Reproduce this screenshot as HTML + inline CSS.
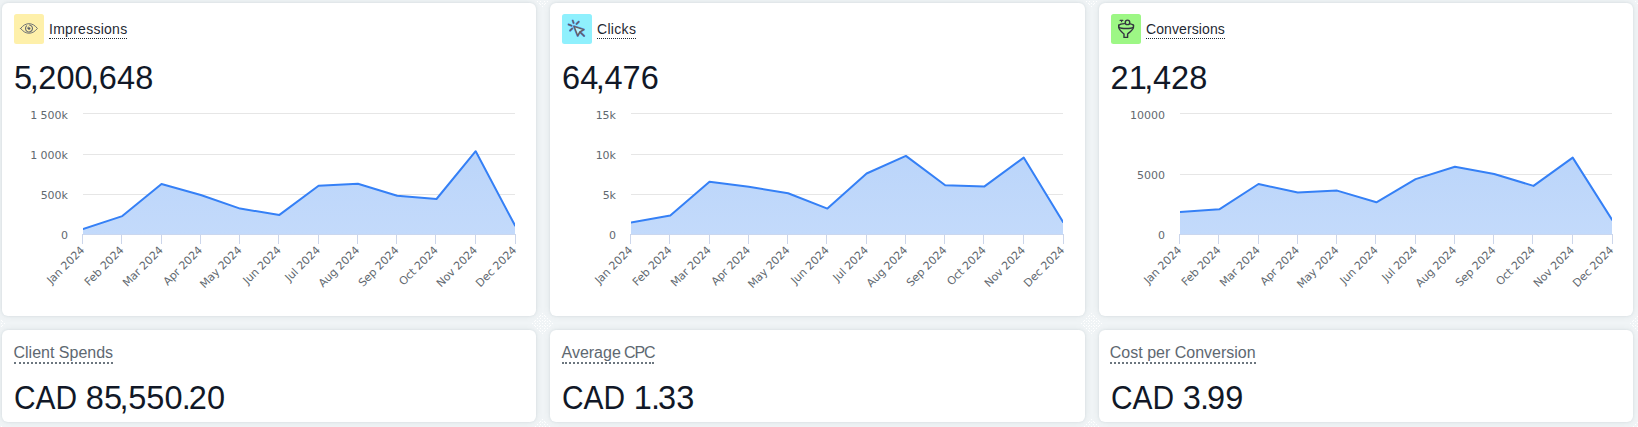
<!DOCTYPE html>
<html lang="en"><head><meta charset="utf-8"><title>Dashboard</title>
<style>
html,body{margin:0;padding:0;}
body{width:1638px;height:427px;overflow:hidden;background:#f0f4f6;font-family:"Liberation Sans",Arial,sans-serif;position:relative;}
.card{position:absolute;background:#fff;border-radius:6px;width:534.33px;box-shadow:0 0 3px rgba(30,50,70,0.10),0 0 9px rgba(30,60,70,0.06);}
.top{top:3px;height:313px;}
.bot{top:330px;height:92px;}
.ico{position:absolute;left:12px;top:11px;width:30px;height:30px;border-radius:2.5px;display:flex;align-items:center;justify-content:center;}
.ttl{position:absolute;left:47px;top:18px;font-size:14px;line-height:16px;color:#1f2933;border-bottom:1px dotted #1f2933;padding-bottom:1px;white-space:nowrap;}
.val{position:absolute;left:12px;top:56px;font-size:32.500px;line-height:38px;color:#111827;white-space:nowrap;letter-spacing:0.1px;}
.c{letter-spacing:-0.500px;margin-left:-2.500px;}
.p{letter-spacing:-2px;margin-left:-1px;}
.cur{display:inline-block;transform:scaleX(0.92);transform-origin:0 50%;margin-right:-6px;letter-spacing:0;}
.dots{position:absolute;}
.wrap{position:absolute;width:534px;height:0;}
.chart{position:absolute;left:0;top:0;}
.xl{letter-spacing:-0.080px;}
.ax{font-family:"DejaVu Sans","Liberation Sans",sans-serif;font-size:11px;fill:#626970;}
.bttl{position:absolute;left:11.500px;top:14px;font-size:16px;line-height:18px;color:#5e6871;border-bottom:2px dotted #6c767f;padding-bottom:0;white-space:nowrap;}
.bval{position:absolute;left:12px;top:49px;font-size:32.500px;line-height:38px;color:#111827;white-space:nowrap;letter-spacing:0.1px;}
</style></head><body>
<div class="card top" style="left:2px"></div>
<div class="card bot" style="left:2px"></div>
<div class="card top" style="left:550.33px"></div>
<div class="card bot" style="left:550.33px"></div>
<div class="card top" style="left:1098.67px"></div>
<div class="card bot" style="left:1098.67px"></div>
<div class="wrap" style="left:2px;top:3px">
<svg class="chart" width="534" height="313" viewBox="0 0 534 313">
<defs><linearGradient id="g0" x1="0" y1="0" x2="0" y2="1"><stop offset="0" stop-color="#bbd5fa"/><stop offset="1" stop-color="#c3dafb"/></linearGradient><clipPath id="cp0"><rect x="81.0" y="100.5" width="432.0" height="131.0"/></clipPath></defs>
<path d="M81.0 110.5H513.0" stroke="#e6e6e6" stroke-width="1" fill="none"/>
<path d="M81.0 151.5H513.0" stroke="#e6e6e6" stroke-width="1" fill="none"/>
<path d="M81.0 191.5H513.0" stroke="#e6e6e6" stroke-width="1" fill="none"/>
<path d="M81.0 231.5H513.0" stroke="#ccd6eb" stroke-width="1" fill="none"/>
<path d="M80.5 231.0V241.0" stroke="#ccd6eb" stroke-width="1" fill="none"/>
<path d="M119.5 231.0V241.0" stroke="#ccd6eb" stroke-width="1" fill="none"/>
<path d="M159.5 231.0V241.0" stroke="#ccd6eb" stroke-width="1" fill="none"/>
<path d="M198.5 231.0V241.0" stroke="#ccd6eb" stroke-width="1" fill="none"/>
<path d="M237.5 231.0V241.0" stroke="#ccd6eb" stroke-width="1" fill="none"/>
<path d="M276.5 231.0V241.0" stroke="#ccd6eb" stroke-width="1" fill="none"/>
<path d="M316.5 231.0V241.0" stroke="#ccd6eb" stroke-width="1" fill="none"/>
<path d="M355.5 231.0V241.0" stroke="#ccd6eb" stroke-width="1" fill="none"/>
<path d="M394.5 231.0V241.0" stroke="#ccd6eb" stroke-width="1" fill="none"/>
<path d="M433.5 231.0V241.0" stroke="#ccd6eb" stroke-width="1" fill="none"/>
<path d="M473.5 231.0V241.0" stroke="#ccd6eb" stroke-width="1" fill="none"/>
<path d="M513.5 231.0V241.0" stroke="#ccd6eb" stroke-width="1" fill="none"/>
<g clip-path="url(#cp0)">
<path d="M81.0 226.0 L120.3 213.1 L159.5 181.0 L198.8 192.0 L238.1 205.6 L277.4 211.9 L316.6 182.7 L355.9 180.8 L395.2 192.7 L434.5 196.0 L473.7 148.2 L513.0 222.5 L513.0 231.5 L81.0 231.5Z" fill="url(#g0)" stroke="none"/>
<path d="M81.0 226.0 L120.3 213.1 L159.5 181.0 L198.8 192.0 L238.1 205.6 L277.4 211.9 L316.6 182.7 L355.9 180.8 L395.2 192.7 L434.5 196.0 L473.7 148.2 L513.0 222.5" fill="none" stroke="#3580f6" stroke-width="2" stroke-linejoin="round" stroke-linecap="round"/>
</g>
<text x="66.0" y="116" text-anchor="end" class="ax">1 500k</text>
<text x="66.0" y="156" text-anchor="end" class="ax">1 000k</text>
<text x="66.0" y="196" text-anchor="end" class="ax">500k</text>
<text x="66.0" y="236" text-anchor="end" class="ax">0</text>
<text x="83.2" y="247.8" text-anchor="end" class="ax xl" transform="rotate(-45 83.2 247.8)">Jan 2024</text>
<text x="122.5" y="247.8" text-anchor="end" class="ax xl" transform="rotate(-45 122.5 247.8)">Feb 2024</text>
<text x="161.7" y="247.8" text-anchor="end" class="ax xl" transform="rotate(-45 161.7 247.8)">Mar 2024</text>
<text x="201.0" y="247.8" text-anchor="end" class="ax xl" transform="rotate(-45 201.0 247.8)">Apr 2024</text>
<text x="240.3" y="247.8" text-anchor="end" class="ax xl" transform="rotate(-45 240.3 247.8)">May 2024</text>
<text x="279.6" y="247.8" text-anchor="end" class="ax xl" transform="rotate(-45 279.6 247.8)">Jun 2024</text>
<text x="318.8" y="247.8" text-anchor="end" class="ax xl" transform="rotate(-45 318.8 247.8)">Jul 2024</text>
<text x="358.1" y="247.8" text-anchor="end" class="ax xl" transform="rotate(-45 358.1 247.8)">Aug 2024</text>
<text x="397.4" y="247.8" text-anchor="end" class="ax xl" transform="rotate(-45 397.4 247.8)">Sep 2024</text>
<text x="436.7" y="247.8" text-anchor="end" class="ax xl" transform="rotate(-45 436.7 247.8)">Oct 2024</text>
<text x="475.9" y="247.8" text-anchor="end" class="ax xl" transform="rotate(-45 475.9 247.8)">Nov 2024</text>
<text x="515.2" y="247.8" text-anchor="end" class="ax xl" transform="rotate(-45 515.2 247.8)">Dec 2024</text>
</svg>
<div class="ico" style="background:#fef0aa"><svg width="30" height="30" viewBox="0 0 30 30" fill="none" stroke="#666a71" stroke-width="0.950" stroke-linecap="round" stroke-linejoin="round"><path d="M6.600 14.450C9.200 11.100 12 9.700 15 9.700s5.800 1.400 8.400 4.750c-2.600 3.350-5.400 4.750-8.400 4.750s-5.800-1.400-8.400-4.750z"/><path d="M12.600 11.900A3.500 3.500 0 1 0 15.600 11" stroke-width="1.100"/><circle cx="15.100" cy="14.500" r="1.350" fill="#5c6067" stroke="none"/><path d="M13.300 14.400a1.800 1.800 0 0 1 1.100-1.600" stroke-width="0.700"/></svg></div>
<div class="ttl" style="letter-spacing:0.27px">Impression<span style="letter-spacing:0">s</span></div>
<div class="val" style="left:12px">5<span class="c">,</span>200<span class="c">,</span>648</div>
</div>
<div class="wrap" style="left:550px;top:3px">
<svg class="chart" width="534" height="313" viewBox="0 0 534 313">
<defs><linearGradient id="g1" x1="0" y1="0" x2="0" y2="1"><stop offset="0" stop-color="#bbd5fa"/><stop offset="1" stop-color="#c3dafb"/></linearGradient><clipPath id="cp1"><rect x="81.0" y="100.5" width="432.0" height="131.0"/></clipPath></defs>
<path d="M81.0 110.5H513.0" stroke="#e6e6e6" stroke-width="1" fill="none"/>
<path d="M81.0 151.5H513.0" stroke="#e6e6e6" stroke-width="1" fill="none"/>
<path d="M81.0 191.5H513.0" stroke="#e6e6e6" stroke-width="1" fill="none"/>
<path d="M81.0 231.5H513.0" stroke="#ccd6eb" stroke-width="1" fill="none"/>
<path d="M80.5 231.0V241.0" stroke="#ccd6eb" stroke-width="1" fill="none"/>
<path d="M119.5 231.0V241.0" stroke="#ccd6eb" stroke-width="1" fill="none"/>
<path d="M159.5 231.0V241.0" stroke="#ccd6eb" stroke-width="1" fill="none"/>
<path d="M198.5 231.0V241.0" stroke="#ccd6eb" stroke-width="1" fill="none"/>
<path d="M237.5 231.0V241.0" stroke="#ccd6eb" stroke-width="1" fill="none"/>
<path d="M276.5 231.0V241.0" stroke="#ccd6eb" stroke-width="1" fill="none"/>
<path d="M316.5 231.0V241.0" stroke="#ccd6eb" stroke-width="1" fill="none"/>
<path d="M355.5 231.0V241.0" stroke="#ccd6eb" stroke-width="1" fill="none"/>
<path d="M394.5 231.0V241.0" stroke="#ccd6eb" stroke-width="1" fill="none"/>
<path d="M433.5 231.0V241.0" stroke="#ccd6eb" stroke-width="1" fill="none"/>
<path d="M473.5 231.0V241.0" stroke="#ccd6eb" stroke-width="1" fill="none"/>
<path d="M513.5 231.0V241.0" stroke="#ccd6eb" stroke-width="1" fill="none"/>
<g clip-path="url(#cp1)">
<path d="M81.0 219.4 L120.3 212.4 L159.5 178.7 L198.8 183.8 L238.1 190.2 L277.4 205.6 L316.6 170.5 L355.9 152.9 L395.2 182.2 L434.5 183.4 L473.7 154.6 L513.0 219.0 L513.0 231.5 L81.0 231.5Z" fill="url(#g1)" stroke="none"/>
<path d="M81.0 219.4 L120.3 212.4 L159.5 178.7 L198.8 183.8 L238.1 190.2 L277.4 205.6 L316.6 170.5 L355.9 152.9 L395.2 182.2 L434.5 183.4 L473.7 154.6 L513.0 219.0" fill="none" stroke="#3580f6" stroke-width="2" stroke-linejoin="round" stroke-linecap="round"/>
</g>
<text x="66.0" y="116" text-anchor="end" class="ax">15k</text>
<text x="66.0" y="156" text-anchor="end" class="ax">10k</text>
<text x="66.0" y="196" text-anchor="end" class="ax">5k</text>
<text x="66.0" y="236" text-anchor="end" class="ax">0</text>
<text x="83.2" y="247.8" text-anchor="end" class="ax xl" transform="rotate(-45 83.2 247.8)">Jan 2024</text>
<text x="122.5" y="247.8" text-anchor="end" class="ax xl" transform="rotate(-45 122.5 247.8)">Feb 2024</text>
<text x="161.7" y="247.8" text-anchor="end" class="ax xl" transform="rotate(-45 161.7 247.8)">Mar 2024</text>
<text x="201.0" y="247.8" text-anchor="end" class="ax xl" transform="rotate(-45 201.0 247.8)">Apr 2024</text>
<text x="240.3" y="247.8" text-anchor="end" class="ax xl" transform="rotate(-45 240.3 247.8)">May 2024</text>
<text x="279.6" y="247.8" text-anchor="end" class="ax xl" transform="rotate(-45 279.6 247.8)">Jun 2024</text>
<text x="318.8" y="247.8" text-anchor="end" class="ax xl" transform="rotate(-45 318.8 247.8)">Jul 2024</text>
<text x="358.1" y="247.8" text-anchor="end" class="ax xl" transform="rotate(-45 358.1 247.8)">Aug 2024</text>
<text x="397.4" y="247.8" text-anchor="end" class="ax xl" transform="rotate(-45 397.4 247.8)">Sep 2024</text>
<text x="436.7" y="247.8" text-anchor="end" class="ax xl" transform="rotate(-45 436.7 247.8)">Oct 2024</text>
<text x="475.9" y="247.8" text-anchor="end" class="ax xl" transform="rotate(-45 475.9 247.8)">Nov 2024</text>
<text x="515.2" y="247.8" text-anchor="end" class="ax xl" transform="rotate(-45 515.2 247.8)">Dec 2024</text>
</svg>
<div class="ico" style="background:#8ff0fd"><svg width="30" height="30" viewBox="0 0 30 30" fill="none" stroke-linecap="round" stroke-linejoin="round"><g stroke="#3f74f2" stroke-width="2.300" stroke-opacity="0.75"><path d="M12 12.300l9.800 3.300-4 2.200-2.100 4z"/><path d="M18.200 18.200l3.900 3.700"/><path d="M10.700 6.600l0.900 2.400M16.700 7.800l-2.200 2.100M6.600 10.500l2.900 1.200M8.100 16.600l2.100-2.100"/></g><g stroke="#675f60" stroke-width="1.400"><path d="M12 12.300l9.800 3.300-4 2.200-2.100 4z" fill="#b5f3ff"/><path d="M18.200 18.200l3.900 3.700"/><path d="M10.700 6.600l0.900 2.400M16.700 7.800l-2.200 2.100M6.600 10.500l2.900 1.200M8.100 16.600l2.100-2.100"/></g></svg></div>
<div class="ttl" style="letter-spacing:0.32px">Click<span style="letter-spacing:0">s</span></div>
<div class="val" style="left:12px">64<span class="c">,</span>476</div>
</div>
<div class="wrap" style="left:1099px;top:3px">
<svg class="chart" width="534" height="313" viewBox="0 0 534 313">
<defs><linearGradient id="g2" x1="0" y1="0" x2="0" y2="1"><stop offset="0" stop-color="#bbd5fa"/><stop offset="1" stop-color="#c3dafb"/></linearGradient><clipPath id="cp2"><rect x="81.0" y="100.5" width="432.0" height="131.0"/></clipPath></defs>
<path d="M81.0 110.5H513.0" stroke="#e6e6e6" stroke-width="1" fill="none"/>
<path d="M81.0 171.5H513.0" stroke="#e6e6e6" stroke-width="1" fill="none"/>
<path d="M81.0 231.5H513.0" stroke="#ccd6eb" stroke-width="1" fill="none"/>
<path d="M80.5 231.0V241.0" stroke="#ccd6eb" stroke-width="1" fill="none"/>
<path d="M119.5 231.0V241.0" stroke="#ccd6eb" stroke-width="1" fill="none"/>
<path d="M159.5 231.0V241.0" stroke="#ccd6eb" stroke-width="1" fill="none"/>
<path d="M198.5 231.0V241.0" stroke="#ccd6eb" stroke-width="1" fill="none"/>
<path d="M237.5 231.0V241.0" stroke="#ccd6eb" stroke-width="1" fill="none"/>
<path d="M276.5 231.0V241.0" stroke="#ccd6eb" stroke-width="1" fill="none"/>
<path d="M316.5 231.0V241.0" stroke="#ccd6eb" stroke-width="1" fill="none"/>
<path d="M355.5 231.0V241.0" stroke="#ccd6eb" stroke-width="1" fill="none"/>
<path d="M394.5 231.0V241.0" stroke="#ccd6eb" stroke-width="1" fill="none"/>
<path d="M433.5 231.0V241.0" stroke="#ccd6eb" stroke-width="1" fill="none"/>
<path d="M473.5 231.0V241.0" stroke="#ccd6eb" stroke-width="1" fill="none"/>
<path d="M513.5 231.0V241.0" stroke="#ccd6eb" stroke-width="1" fill="none"/>
<g clip-path="url(#cp2)">
<path d="M81.0 208.9 L120.3 206.3 L159.5 181.0 L198.8 189.5 L238.1 187.6 L277.4 199.3 L316.6 176.1 L355.9 163.7 L395.2 171.0 L434.5 182.9 L473.7 154.6 L513.0 216.6 L513.0 231.5 L81.0 231.5Z" fill="url(#g2)" stroke="none"/>
<path d="M81.0 208.9 L120.3 206.3 L159.5 181.0 L198.8 189.5 L238.1 187.6 L277.4 199.3 L316.6 176.1 L355.9 163.7 L395.2 171.0 L434.5 182.9 L473.7 154.6 L513.0 216.6" fill="none" stroke="#3580f6" stroke-width="2" stroke-linejoin="round" stroke-linecap="round"/>
</g>
<text x="66.0" y="116" text-anchor="end" class="ax">10000</text>
<text x="66.0" y="176" text-anchor="end" class="ax">5000</text>
<text x="66.0" y="236" text-anchor="end" class="ax">0</text>
<text x="83.2" y="247.8" text-anchor="end" class="ax xl" transform="rotate(-45 83.2 247.8)">Jan 2024</text>
<text x="122.5" y="247.8" text-anchor="end" class="ax xl" transform="rotate(-45 122.5 247.8)">Feb 2024</text>
<text x="161.7" y="247.8" text-anchor="end" class="ax xl" transform="rotate(-45 161.7 247.8)">Mar 2024</text>
<text x="201.0" y="247.8" text-anchor="end" class="ax xl" transform="rotate(-45 201.0 247.8)">Apr 2024</text>
<text x="240.3" y="247.8" text-anchor="end" class="ax xl" transform="rotate(-45 240.3 247.8)">May 2024</text>
<text x="279.6" y="247.8" text-anchor="end" class="ax xl" transform="rotate(-45 279.6 247.8)">Jun 2024</text>
<text x="318.8" y="247.8" text-anchor="end" class="ax xl" transform="rotate(-45 318.8 247.8)">Jul 2024</text>
<text x="358.1" y="247.8" text-anchor="end" class="ax xl" transform="rotate(-45 358.1 247.8)">Aug 2024</text>
<text x="397.4" y="247.8" text-anchor="end" class="ax xl" transform="rotate(-45 397.4 247.8)">Sep 2024</text>
<text x="436.7" y="247.8" text-anchor="end" class="ax xl" transform="rotate(-45 436.7 247.8)">Oct 2024</text>
<text x="475.9" y="247.8" text-anchor="end" class="ax xl" transform="rotate(-45 475.9 247.8)">Nov 2024</text>
<text x="515.2" y="247.8" text-anchor="end" class="ax xl" transform="rotate(-45 515.2 247.8)">Dec 2024</text>
</svg>
<div class="ico" style="background:#9df785"><svg width="30" height="30" viewBox="0 0 30 30" fill="none" stroke="#33343f" stroke-width="1.400" stroke-linecap="round" stroke-linejoin="round"><path d="M7.700 11.200c0.900-0.900 3.100-1.500 5.700-1.600M19.400 9.900c1.500 0.300 2.600 0.700 3.100 1.300"/><path d="M7.700 11.200v1.900c0 2.800 2.700 4.400 5.300 6.900v3.400h3.600v-3.400c2.600-2.500 5.900-4.100 5.900-6.900v-1.900"/><path d="M8 13.300c2.300 1.500 12 1.500 14.300 0"/><circle cx="16.500" cy="8.400" r="2.250"/><path d="M9.100 6.400h2.800M10.500 6.600l0.200 1.200" stroke-width="1.100"/></svg></div>
<div class="ttl" style="letter-spacing:0.1px">Conversion<span style="letter-spacing:0">s</span></div>
<div class="val" style="left:11.5px">21<span class="c">,</span>428</div>
</div>
<div class="wrap" style="left:2px;top:330px">
<div class="bttl" style="left:11.5px">Client Spends</div>
<div class="bval"><span class="cur">CAD</span> 85<span class="c">,</span>550<span class="p">.</span>20</div>
</div>
<div class="wrap" style="left:550px;top:330px">
<div class="bttl" style="left:11.5px"><span style="word-spacing:-1.3px">Average <span style="letter-spacing:-1.1px">CPC</span></span></div>
<div class="bval"><span class="cur">CAD</span> 1<span class="p">.</span>33</div>
</div>
<div class="wrap" style="left:1099px;top:330px">
<div class="bttl" style="left:10.8px">Cost per Conversion</div>
<div class="bval"><span class="cur">CAD</span> 3<span class="p">.</span>99</div>
</div>
<svg class="dots" style="left:-18px;top:-16px" width="24" height="24" viewBox="-12 -12 24 24"><path fill="#ffffff" fill-opacity="0.95" d="M0 -10h1v1h-1zM-2 -8h1v1h-1zM-3 -7h1v1h-1zM-5 -5h1v1h-1zM-7 -3h1v1h-1zM-8 -2h1v1h-1zM-10 0h1v1h-1zM2 -8h1v1h-1zM0 -7h1v1h-1zM-2 -5h1v1h-1zM-3 -3h1v1h-1zM-5 -2h1v1h-1zM-7 0h1v1h-1zM-8 2h1v1h-1zM3 -7h1v1h-1zM2 -5h1v1h-1zM0 -3h1v1h-1zM-2 -2h1v1h-1zM-3 0h1v1h-1zM-5 2h1v1h-1zM-7 3h1v1h-1zM5 -5h1v1h-1zM3 -3h1v1h-1zM2 -2h1v1h-1zM0 0h1v1h-1zM-2 2h1v1h-1zM-3 3h1v1h-1zM-5 5h1v1h-1zM7 -3h1v1h-1zM5 -2h1v1h-1zM3 0h1v1h-1zM2 2h1v1h-1zM0 3h1v1h-1zM-2 5h1v1h-1zM-3 7h1v1h-1zM8 -2h1v1h-1zM7 0h1v1h-1zM5 2h1v1h-1zM3 3h1v1h-1zM2 5h1v1h-1zM0 7h1v1h-1zM-2 8h1v1h-1zM10 0h1v1h-1zM8 2h1v1h-1zM7 3h1v1h-1zM5 5h1v1h-1zM3 7h1v1h-1zM2 8h1v1h-1zM0 10h1v1h-1z"/></svg>
<svg class="dots" style="left:-18px;top:311px" width="24" height="24" viewBox="-12 -12 24 24"><path fill="#ffffff" fill-opacity="0.95" d="M0 -10h1v1h-1zM-2 -8h1v1h-1zM-3 -7h1v1h-1zM-5 -5h1v1h-1zM-7 -3h1v1h-1zM-8 -2h1v1h-1zM-10 0h1v1h-1zM2 -8h1v1h-1zM0 -7h1v1h-1zM-2 -5h1v1h-1zM-3 -3h1v1h-1zM-5 -2h1v1h-1zM-7 0h1v1h-1zM-8 2h1v1h-1zM3 -7h1v1h-1zM2 -5h1v1h-1zM0 -3h1v1h-1zM-2 -2h1v1h-1zM-3 0h1v1h-1zM-5 2h1v1h-1zM-7 3h1v1h-1zM5 -5h1v1h-1zM3 -3h1v1h-1zM2 -2h1v1h-1zM0 0h1v1h-1zM-2 2h1v1h-1zM-3 3h1v1h-1zM-5 5h1v1h-1zM7 -3h1v1h-1zM5 -2h1v1h-1zM3 0h1v1h-1zM2 2h1v1h-1zM0 3h1v1h-1zM-2 5h1v1h-1zM-3 7h1v1h-1zM8 -2h1v1h-1zM7 0h1v1h-1zM5 2h1v1h-1zM3 3h1v1h-1zM2 5h1v1h-1zM0 7h1v1h-1zM-2 8h1v1h-1zM10 0h1v1h-1zM8 2h1v1h-1zM7 3h1v1h-1zM5 5h1v1h-1zM3 7h1v1h-1zM2 8h1v1h-1zM0 10h1v1h-1z"/></svg>
<svg class="dots" style="left:-18px;top:417px" width="24" height="24" viewBox="-12 -12 24 24"><path fill="#ffffff" fill-opacity="0.95" d="M0 -10h1v1h-1zM-2 -8h1v1h-1zM-3 -7h1v1h-1zM-5 -5h1v1h-1zM-7 -3h1v1h-1zM-8 -2h1v1h-1zM-10 0h1v1h-1zM2 -8h1v1h-1zM0 -7h1v1h-1zM-2 -5h1v1h-1zM-3 -3h1v1h-1zM-5 -2h1v1h-1zM-7 0h1v1h-1zM-8 2h1v1h-1zM3 -7h1v1h-1zM2 -5h1v1h-1zM0 -3h1v1h-1zM-2 -2h1v1h-1zM-3 0h1v1h-1zM-5 2h1v1h-1zM-7 3h1v1h-1zM5 -5h1v1h-1zM3 -3h1v1h-1zM2 -2h1v1h-1zM0 0h1v1h-1zM-2 2h1v1h-1zM-3 3h1v1h-1zM-5 5h1v1h-1zM7 -3h1v1h-1zM5 -2h1v1h-1zM3 0h1v1h-1zM2 2h1v1h-1zM0 3h1v1h-1zM-2 5h1v1h-1zM-3 7h1v1h-1zM8 -2h1v1h-1zM7 0h1v1h-1zM5 2h1v1h-1zM3 3h1v1h-1zM2 5h1v1h-1zM0 7h1v1h-1zM-2 8h1v1h-1zM10 0h1v1h-1zM8 2h1v1h-1zM7 3h1v1h-1zM5 5h1v1h-1zM3 7h1v1h-1zM2 8h1v1h-1zM0 10h1v1h-1z"/></svg>
<svg class="dots" style="left:530px;top:-16px" width="24" height="24" viewBox="-12 -12 24 24"><path fill="#ffffff" fill-opacity="0.95" d="M0 -10h1v1h-1zM-2 -8h1v1h-1zM-3 -7h1v1h-1zM-5 -5h1v1h-1zM-7 -3h1v1h-1zM-8 -2h1v1h-1zM-10 0h1v1h-1zM2 -8h1v1h-1zM0 -7h1v1h-1zM-2 -5h1v1h-1zM-3 -3h1v1h-1zM-5 -2h1v1h-1zM-7 0h1v1h-1zM-8 2h1v1h-1zM3 -7h1v1h-1zM2 -5h1v1h-1zM0 -3h1v1h-1zM-2 -2h1v1h-1zM-3 0h1v1h-1zM-5 2h1v1h-1zM-7 3h1v1h-1zM5 -5h1v1h-1zM3 -3h1v1h-1zM2 -2h1v1h-1zM0 0h1v1h-1zM-2 2h1v1h-1zM-3 3h1v1h-1zM-5 5h1v1h-1zM7 -3h1v1h-1zM5 -2h1v1h-1zM3 0h1v1h-1zM2 2h1v1h-1zM0 3h1v1h-1zM-2 5h1v1h-1zM-3 7h1v1h-1zM8 -2h1v1h-1zM7 0h1v1h-1zM5 2h1v1h-1zM3 3h1v1h-1zM2 5h1v1h-1zM0 7h1v1h-1zM-2 8h1v1h-1zM10 0h1v1h-1zM8 2h1v1h-1zM7 3h1v1h-1zM5 5h1v1h-1zM3 7h1v1h-1zM2 8h1v1h-1zM0 10h1v1h-1z"/></svg>
<svg class="dots" style="left:530px;top:311px" width="24" height="24" viewBox="-12 -12 24 24"><path fill="#ffffff" fill-opacity="0.95" d="M0 -10h1v1h-1zM-2 -8h1v1h-1zM-3 -7h1v1h-1zM-5 -5h1v1h-1zM-7 -3h1v1h-1zM-8 -2h1v1h-1zM-10 0h1v1h-1zM2 -8h1v1h-1zM0 -7h1v1h-1zM-2 -5h1v1h-1zM-3 -3h1v1h-1zM-5 -2h1v1h-1zM-7 0h1v1h-1zM-8 2h1v1h-1zM3 -7h1v1h-1zM2 -5h1v1h-1zM0 -3h1v1h-1zM-2 -2h1v1h-1zM-3 0h1v1h-1zM-5 2h1v1h-1zM-7 3h1v1h-1zM5 -5h1v1h-1zM3 -3h1v1h-1zM2 -2h1v1h-1zM0 0h1v1h-1zM-2 2h1v1h-1zM-3 3h1v1h-1zM-5 5h1v1h-1zM7 -3h1v1h-1zM5 -2h1v1h-1zM3 0h1v1h-1zM2 2h1v1h-1zM0 3h1v1h-1zM-2 5h1v1h-1zM-3 7h1v1h-1zM8 -2h1v1h-1zM7 0h1v1h-1zM5 2h1v1h-1zM3 3h1v1h-1zM2 5h1v1h-1zM0 7h1v1h-1zM-2 8h1v1h-1zM10 0h1v1h-1zM8 2h1v1h-1zM7 3h1v1h-1zM5 5h1v1h-1zM3 7h1v1h-1zM2 8h1v1h-1zM0 10h1v1h-1z"/></svg>
<svg class="dots" style="left:530px;top:417px" width="24" height="24" viewBox="-12 -12 24 24"><path fill="#ffffff" fill-opacity="0.95" d="M0 -10h1v1h-1zM-2 -8h1v1h-1zM-3 -7h1v1h-1zM-5 -5h1v1h-1zM-7 -3h1v1h-1zM-8 -2h1v1h-1zM-10 0h1v1h-1zM2 -8h1v1h-1zM0 -7h1v1h-1zM-2 -5h1v1h-1zM-3 -3h1v1h-1zM-5 -2h1v1h-1zM-7 0h1v1h-1zM-8 2h1v1h-1zM3 -7h1v1h-1zM2 -5h1v1h-1zM0 -3h1v1h-1zM-2 -2h1v1h-1zM-3 0h1v1h-1zM-5 2h1v1h-1zM-7 3h1v1h-1zM5 -5h1v1h-1zM3 -3h1v1h-1zM2 -2h1v1h-1zM0 0h1v1h-1zM-2 2h1v1h-1zM-3 3h1v1h-1zM-5 5h1v1h-1zM7 -3h1v1h-1zM5 -2h1v1h-1zM3 0h1v1h-1zM2 2h1v1h-1zM0 3h1v1h-1zM-2 5h1v1h-1zM-3 7h1v1h-1zM8 -2h1v1h-1zM7 0h1v1h-1zM5 2h1v1h-1zM3 3h1v1h-1zM2 5h1v1h-1zM0 7h1v1h-1zM-2 8h1v1h-1zM10 0h1v1h-1zM8 2h1v1h-1zM7 3h1v1h-1zM5 5h1v1h-1zM3 7h1v1h-1zM2 8h1v1h-1zM0 10h1v1h-1z"/></svg>
<svg class="dots" style="left:1079px;top:-16px" width="24" height="24" viewBox="-12 -12 24 24"><path fill="#ffffff" fill-opacity="0.95" d="M0 -10h1v1h-1zM-2 -8h1v1h-1zM-3 -7h1v1h-1zM-5 -5h1v1h-1zM-7 -3h1v1h-1zM-8 -2h1v1h-1zM-10 0h1v1h-1zM2 -8h1v1h-1zM0 -7h1v1h-1zM-2 -5h1v1h-1zM-3 -3h1v1h-1zM-5 -2h1v1h-1zM-7 0h1v1h-1zM-8 2h1v1h-1zM3 -7h1v1h-1zM2 -5h1v1h-1zM0 -3h1v1h-1zM-2 -2h1v1h-1zM-3 0h1v1h-1zM-5 2h1v1h-1zM-7 3h1v1h-1zM5 -5h1v1h-1zM3 -3h1v1h-1zM2 -2h1v1h-1zM0 0h1v1h-1zM-2 2h1v1h-1zM-3 3h1v1h-1zM-5 5h1v1h-1zM7 -3h1v1h-1zM5 -2h1v1h-1zM3 0h1v1h-1zM2 2h1v1h-1zM0 3h1v1h-1zM-2 5h1v1h-1zM-3 7h1v1h-1zM8 -2h1v1h-1zM7 0h1v1h-1zM5 2h1v1h-1zM3 3h1v1h-1zM2 5h1v1h-1zM0 7h1v1h-1zM-2 8h1v1h-1zM10 0h1v1h-1zM8 2h1v1h-1zM7 3h1v1h-1zM5 5h1v1h-1zM3 7h1v1h-1zM2 8h1v1h-1zM0 10h1v1h-1z"/></svg>
<svg class="dots" style="left:1079px;top:311px" width="24" height="24" viewBox="-12 -12 24 24"><path fill="#ffffff" fill-opacity="0.95" d="M0 -10h1v1h-1zM-2 -8h1v1h-1zM-3 -7h1v1h-1zM-5 -5h1v1h-1zM-7 -3h1v1h-1zM-8 -2h1v1h-1zM-10 0h1v1h-1zM2 -8h1v1h-1zM0 -7h1v1h-1zM-2 -5h1v1h-1zM-3 -3h1v1h-1zM-5 -2h1v1h-1zM-7 0h1v1h-1zM-8 2h1v1h-1zM3 -7h1v1h-1zM2 -5h1v1h-1zM0 -3h1v1h-1zM-2 -2h1v1h-1zM-3 0h1v1h-1zM-5 2h1v1h-1zM-7 3h1v1h-1zM5 -5h1v1h-1zM3 -3h1v1h-1zM2 -2h1v1h-1zM0 0h1v1h-1zM-2 2h1v1h-1zM-3 3h1v1h-1zM-5 5h1v1h-1zM7 -3h1v1h-1zM5 -2h1v1h-1zM3 0h1v1h-1zM2 2h1v1h-1zM0 3h1v1h-1zM-2 5h1v1h-1zM-3 7h1v1h-1zM8 -2h1v1h-1zM7 0h1v1h-1zM5 2h1v1h-1zM3 3h1v1h-1zM2 5h1v1h-1zM0 7h1v1h-1zM-2 8h1v1h-1zM10 0h1v1h-1zM8 2h1v1h-1zM7 3h1v1h-1zM5 5h1v1h-1zM3 7h1v1h-1zM2 8h1v1h-1zM0 10h1v1h-1z"/></svg>
<svg class="dots" style="left:1079px;top:417px" width="24" height="24" viewBox="-12 -12 24 24"><path fill="#ffffff" fill-opacity="0.95" d="M0 -10h1v1h-1zM-2 -8h1v1h-1zM-3 -7h1v1h-1zM-5 -5h1v1h-1zM-7 -3h1v1h-1zM-8 -2h1v1h-1zM-10 0h1v1h-1zM2 -8h1v1h-1zM0 -7h1v1h-1zM-2 -5h1v1h-1zM-3 -3h1v1h-1zM-5 -2h1v1h-1zM-7 0h1v1h-1zM-8 2h1v1h-1zM3 -7h1v1h-1zM2 -5h1v1h-1zM0 -3h1v1h-1zM-2 -2h1v1h-1zM-3 0h1v1h-1zM-5 2h1v1h-1zM-7 3h1v1h-1zM5 -5h1v1h-1zM3 -3h1v1h-1zM2 -2h1v1h-1zM0 0h1v1h-1zM-2 2h1v1h-1zM-3 3h1v1h-1zM-5 5h1v1h-1zM7 -3h1v1h-1zM5 -2h1v1h-1zM3 0h1v1h-1zM2 2h1v1h-1zM0 3h1v1h-1zM-2 5h1v1h-1zM-3 7h1v1h-1zM8 -2h1v1h-1zM7 0h1v1h-1zM5 2h1v1h-1zM3 3h1v1h-1zM2 5h1v1h-1zM0 7h1v1h-1zM-2 8h1v1h-1zM10 0h1v1h-1zM8 2h1v1h-1zM7 3h1v1h-1zM5 5h1v1h-1zM3 7h1v1h-1zM2 8h1v1h-1zM0 10h1v1h-1z"/></svg>
<svg class="dots" style="left:1628px;top:-16px" width="24" height="24" viewBox="-12 -12 24 24"><path fill="#ffffff" fill-opacity="0.95" d="M0 -10h1v1h-1zM-2 -8h1v1h-1zM-3 -7h1v1h-1zM-5 -5h1v1h-1zM-7 -3h1v1h-1zM-8 -2h1v1h-1zM-10 0h1v1h-1zM2 -8h1v1h-1zM0 -7h1v1h-1zM-2 -5h1v1h-1zM-3 -3h1v1h-1zM-5 -2h1v1h-1zM-7 0h1v1h-1zM-8 2h1v1h-1zM3 -7h1v1h-1zM2 -5h1v1h-1zM0 -3h1v1h-1zM-2 -2h1v1h-1zM-3 0h1v1h-1zM-5 2h1v1h-1zM-7 3h1v1h-1zM5 -5h1v1h-1zM3 -3h1v1h-1zM2 -2h1v1h-1zM0 0h1v1h-1zM-2 2h1v1h-1zM-3 3h1v1h-1zM-5 5h1v1h-1zM7 -3h1v1h-1zM5 -2h1v1h-1zM3 0h1v1h-1zM2 2h1v1h-1zM0 3h1v1h-1zM-2 5h1v1h-1zM-3 7h1v1h-1zM8 -2h1v1h-1zM7 0h1v1h-1zM5 2h1v1h-1zM3 3h1v1h-1zM2 5h1v1h-1zM0 7h1v1h-1zM-2 8h1v1h-1zM10 0h1v1h-1zM8 2h1v1h-1zM7 3h1v1h-1zM5 5h1v1h-1zM3 7h1v1h-1zM2 8h1v1h-1zM0 10h1v1h-1z"/></svg>
<svg class="dots" style="left:1628px;top:311px" width="24" height="24" viewBox="-12 -12 24 24"><path fill="#ffffff" fill-opacity="0.95" d="M0 -10h1v1h-1zM-2 -8h1v1h-1zM-3 -7h1v1h-1zM-5 -5h1v1h-1zM-7 -3h1v1h-1zM-8 -2h1v1h-1zM-10 0h1v1h-1zM2 -8h1v1h-1zM0 -7h1v1h-1zM-2 -5h1v1h-1zM-3 -3h1v1h-1zM-5 -2h1v1h-1zM-7 0h1v1h-1zM-8 2h1v1h-1zM3 -7h1v1h-1zM2 -5h1v1h-1zM0 -3h1v1h-1zM-2 -2h1v1h-1zM-3 0h1v1h-1zM-5 2h1v1h-1zM-7 3h1v1h-1zM5 -5h1v1h-1zM3 -3h1v1h-1zM2 -2h1v1h-1zM0 0h1v1h-1zM-2 2h1v1h-1zM-3 3h1v1h-1zM-5 5h1v1h-1zM7 -3h1v1h-1zM5 -2h1v1h-1zM3 0h1v1h-1zM2 2h1v1h-1zM0 3h1v1h-1zM-2 5h1v1h-1zM-3 7h1v1h-1zM8 -2h1v1h-1zM7 0h1v1h-1zM5 2h1v1h-1zM3 3h1v1h-1zM2 5h1v1h-1zM0 7h1v1h-1zM-2 8h1v1h-1zM10 0h1v1h-1zM8 2h1v1h-1zM7 3h1v1h-1zM5 5h1v1h-1zM3 7h1v1h-1zM2 8h1v1h-1zM0 10h1v1h-1z"/></svg>
<svg class="dots" style="left:1628px;top:417px" width="24" height="24" viewBox="-12 -12 24 24"><path fill="#ffffff" fill-opacity="0.95" d="M0 -10h1v1h-1zM-2 -8h1v1h-1zM-3 -7h1v1h-1zM-5 -5h1v1h-1zM-7 -3h1v1h-1zM-8 -2h1v1h-1zM-10 0h1v1h-1zM2 -8h1v1h-1zM0 -7h1v1h-1zM-2 -5h1v1h-1zM-3 -3h1v1h-1zM-5 -2h1v1h-1zM-7 0h1v1h-1zM-8 2h1v1h-1zM3 -7h1v1h-1zM2 -5h1v1h-1zM0 -3h1v1h-1zM-2 -2h1v1h-1zM-3 0h1v1h-1zM-5 2h1v1h-1zM-7 3h1v1h-1zM5 -5h1v1h-1zM3 -3h1v1h-1zM2 -2h1v1h-1zM0 0h1v1h-1zM-2 2h1v1h-1zM-3 3h1v1h-1zM-5 5h1v1h-1zM7 -3h1v1h-1zM5 -2h1v1h-1zM3 0h1v1h-1zM2 2h1v1h-1zM0 3h1v1h-1zM-2 5h1v1h-1zM-3 7h1v1h-1zM8 -2h1v1h-1zM7 0h1v1h-1zM5 2h1v1h-1zM3 3h1v1h-1zM2 5h1v1h-1zM0 7h1v1h-1zM-2 8h1v1h-1zM10 0h1v1h-1zM8 2h1v1h-1zM7 3h1v1h-1zM5 5h1v1h-1zM3 7h1v1h-1zM2 8h1v1h-1zM0 10h1v1h-1z"/></svg>
</body></html>
